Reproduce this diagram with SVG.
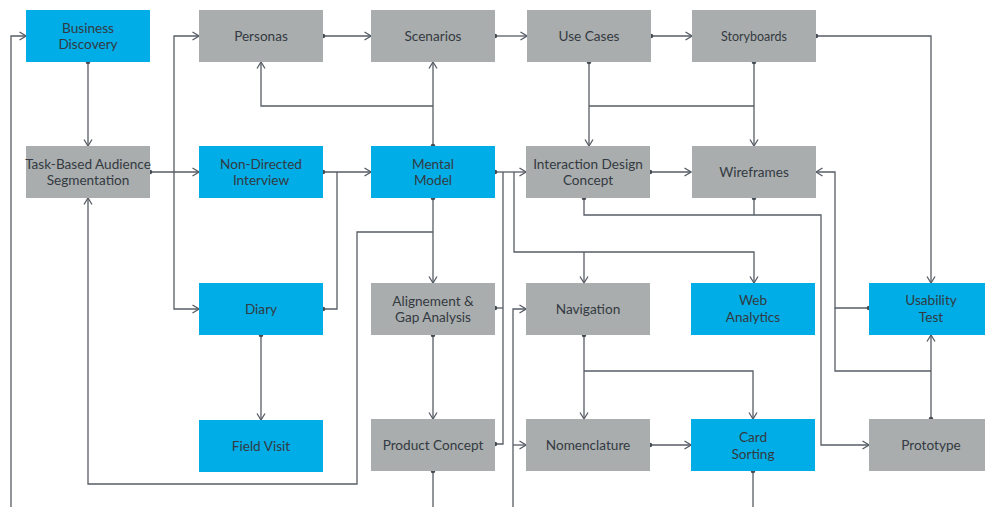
<svg xmlns="http://www.w3.org/2000/svg" width="985" height="507" viewBox="0 0 985 507">
  <style>
    .blue { fill: #00ade6; }
    .gray { fill: #a9adad; }
    .lbl { font-family: Lato, "Noto Sans", sans-serif; font-size: 13.6px; fill: #343a42; text-anchor: middle; }
    .ln { fill: none; stroke: #575d65; stroke-width: 1.3; }
    .dot { fill: #464c54; }
  </style>
  <defs>
    <marker id="arrow" viewBox="0 0 8 10" refX="7.5" refY="5" markerWidth="8" markerHeight="10" markerUnits="userSpaceOnUse" orient="auto">
      <path d="M1,1 L7.5,5 L1,9" fill="none" stroke="#575d65" stroke-width="1.3"/>
    </marker>
  </defs>
  <rect width="985" height="507" fill="#ffffff"/>

  <!-- connectors -->
  <g id="connectors">
    <path class="ln" d="M11,507 V36 H26" marker-end="url(#arrow)"/>
    <path class="ln" d="M88,62 V146" marker-end="url(#arrow)"/>
    <path class="ln" d="M150,172 H199" marker-end="url(#arrow)"/>
    <path class="ln" d="M174,172 V36 H199" marker-end="url(#arrow)"/>
    <path class="ln" d="M174,172 V309 H199" marker-end="url(#arrow)"/>
    <path class="ln" d="M433,198 V283" marker-end="url(#arrow)"/>
    <path class="ln" d="M433,232 H357 V484 H88 V198" marker-end="url(#arrow)"/>
    <path class="ln" d="M323,172 H371" marker-end="url(#arrow)"/>
    <path class="ln" d="M323,309 H337 V172"/>
    <path class="ln" d="M323,36 H371" marker-end="url(#arrow)"/>
    <path class="ln" d="M495,36 H527" marker-end="url(#arrow)"/>
    <path class="ln" d="M651,36 H692" marker-end="url(#arrow)"/>
    <path class="ln" d="M816,36 H931 V283" marker-end="url(#arrow)"/>
    <path class="ln" d="M433,146 V62" marker-end="url(#arrow)"/>
    <path class="ln" d="M433,106 H261 V62" marker-end="url(#arrow)"/>
    <path class="ln" d="M589,62 V146" marker-end="url(#arrow)"/>
    <path class="ln" d="M754,62 V146" marker-end="url(#arrow)"/>
    <path class="ln" d="M589,106 H754"/>
    <path class="ln" d="M495,172 H526" marker-end="url(#arrow)"/>
    <path class="ln" d="M495,444 H503 V172"/>
    <path class="ln" d="M495,308 H503"/>
    <path class="ln" d="M514,172 V252 H754 V283" marker-end="url(#arrow)"/>
    <path class="ln" d="M584,252 V283" marker-end="url(#arrow)"/>
    <path class="ln" d="M513,507 V309 H526" marker-end="url(#arrow)"/>
    <path class="ln" d="M513,445 H526" marker-end="url(#arrow)"/>
    <path class="ln" d="M650,172 H691" marker-end="url(#arrow)"/>
    <path class="ln" d="M584,198 V215 H821 V445 H869" marker-end="url(#arrow)"/>
    <path class="ln" d="M754,198 V215"/>
    <path class="ln" d="M869,308 H835 V172 H816" marker-end="url(#arrow)"/>
    <path class="ln" d="M835,308 V371 H931"/>
    <path class="ln" d="M931,419 V335" marker-end="url(#arrow)"/>
    <path class="ln" d="M261,335 V420" marker-end="url(#arrow)"/>
    <path class="ln" d="M433,335 V419" marker-end="url(#arrow)"/>
    <path class="ln" d="M433,471 V507"/>
    <path class="ln" d="M584,335 V419" marker-end="url(#arrow)"/>
    <path class="ln" d="M584,371 H753 V419" marker-end="url(#arrow)"/>
    <path class="ln" d="M650,445 H691" marker-end="url(#arrow)"/>
    <path class="ln" d="M753,471 V507"/>
    <!-- start points -->
    <g class="dot">
      <circle cx="88" cy="62" r="2.3"/>
      <circle cx="150" cy="172" r="2.3"/>
      <circle cx="433" cy="198" r="2.3"/>
      <circle cx="323" cy="172" r="2.3"/>
      <circle cx="323" cy="309" r="2.3"/>
      <circle cx="323" cy="36" r="2.3"/>
      <circle cx="495" cy="36" r="2.3"/>
      <circle cx="651" cy="36" r="2.3"/>
      <circle cx="816" cy="36" r="2.3"/>
      <circle cx="433" cy="146" r="2.3"/>
      <circle cx="589" cy="62" r="2.3"/>
      <circle cx="754" cy="62" r="2.3"/>
      <circle cx="495" cy="172" r="2.3"/>
      <circle cx="495" cy="444" r="2.3"/>
      <circle cx="495" cy="308" r="2.3"/>
      <circle cx="650" cy="172" r="2.3"/>
      <circle cx="584" cy="198" r="2.3"/>
      <circle cx="754" cy="198" r="2.3"/>
      <circle cx="869" cy="308" r="2.3"/>
      <circle cx="931" cy="419" r="2.3"/>
      <circle cx="261" cy="335" r="2.3"/>
      <circle cx="433" cy="335" r="2.3"/>
      <circle cx="433" cy="471" r="2.3"/>
      <circle cx="584" cy="335" r="2.3"/>
      <circle cx="650" cy="445" r="2.3"/>
      <circle cx="753" cy="471" r="2.3"/>
    </g>
  </g>

  <!-- nodes -->
  <g id="business-discovery">
    <rect class="blue" x="26" y="10" width="124" height="52"/>
    <text class="lbl" x="88" y="33">Business</text>
    <text class="lbl" x="88" y="49">Discovery</text>
  </g>
  <g id="personas">
    <rect class="gray" x="199" y="10" width="124" height="52"/>
    <text class="lbl" x="261" y="41">Personas</text>
  </g>
  <g id="scenarios">
    <rect class="gray" x="371" y="10" width="124" height="52"/>
    <text class="lbl" x="433" y="41">Scenarios</text>
  </g>
  <g id="use-cases">
    <rect class="gray" x="527" y="10" width="124" height="52"/>
    <text class="lbl" x="589" y="41">Use Cases</text>
  </g>
  <g id="storyboards">
    <rect class="gray" x="692" y="10" width="124" height="52"/>
    <text class="lbl" x="754" y="41" style="font-size:12.5px">Storyboards</text>
  </g>
  <g id="task-based-audience-segmentation">
    <rect class="gray" x="26" y="146" width="124" height="52"/>
    <text class="lbl" x="88" y="169">Task-Based Audience</text>
    <text class="lbl" x="88" y="185">Segmentation</text>
  </g>
  <g id="non-directed-interview">
    <rect class="blue" x="199" y="146" width="124" height="52"/>
    <text class="lbl" x="261" y="169">Non-Directed</text>
    <text class="lbl" x="261" y="185">Interview</text>
  </g>
  <g id="mental-model">
    <rect class="blue" x="371" y="146" width="124" height="52"/>
    <text class="lbl" x="433" y="169">Mental</text>
    <text class="lbl" x="433" y="185">Model</text>
  </g>
  <g id="interaction-design-concept">
    <rect class="gray" x="526" y="146" width="124" height="52"/>
    <text class="lbl" x="588" y="169">Interaction Design</text>
    <text class="lbl" x="588" y="185">Concept</text>
  </g>
  <g id="wireframes">
    <rect class="gray" x="692" y="146" width="124" height="52"/>
    <text class="lbl" x="754" y="177">Wireframes</text>
  </g>
  <g id="diary">
    <rect class="blue" x="199" y="283" width="124" height="52"/>
    <text class="lbl" x="261" y="314">Diary</text>
  </g>
  <g id="alignement-gap-analysis">
    <rect class="gray" x="371" y="283" width="124" height="52"/>
    <text class="lbl" x="433" y="306">Alignement &amp;</text>
    <text class="lbl" x="433" y="322">Gap Analysis</text>
  </g>
  <g id="navigation">
    <rect class="gray" x="526" y="283" width="124" height="52"/>
    <text class="lbl" x="588" y="314">Navigation</text>
  </g>
  <g id="web-analytics">
    <rect class="blue" x="691" y="283" width="124" height="52"/>
    <text class="lbl" x="753" y="305">Web</text>
    <text class="lbl" x="753" y="322">Analytics</text>
  </g>
  <g id="usability-test">
    <rect class="blue" x="869" y="283" width="124" height="52"/>
    <text class="lbl" x="931" y="305">Usability</text>
    <text class="lbl" x="931" y="322">Test</text>
  </g>
  <g id="field-visit">
    <rect class="blue" x="199" y="420" width="124" height="52"/>
    <text class="lbl" x="261" y="451">Field Visit</text>
  </g>
  <g id="product-concept">
    <rect class="gray" x="371" y="419" width="124" height="52"/>
    <text class="lbl" x="433" y="450">Product Concept</text>
  </g>
  <g id="nomenclature">
    <rect class="gray" x="526" y="419" width="124" height="52"/>
    <text class="lbl" x="588" y="450">Nomenclature</text>
  </g>
  <g id="card-sorting">
    <rect class="blue" x="691" y="419" width="124" height="52"/>
    <text class="lbl" x="753" y="442">Card</text>
    <text class="lbl" x="753" y="459">Sorting</text>
  </g>
  <g id="prototype">
    <rect class="gray" x="869" y="419" width="124" height="52"/>
    <text class="lbl" x="931" y="450">Prototype</text>
  </g>
</svg>
